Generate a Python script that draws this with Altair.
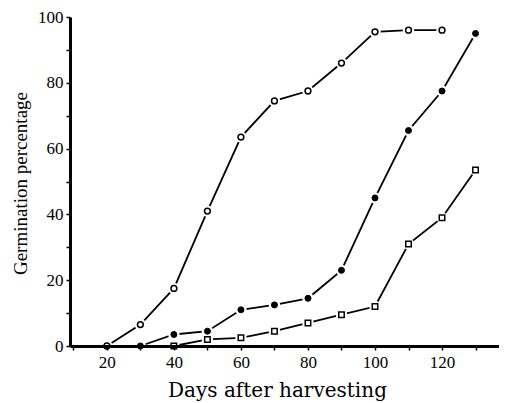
import altair as alt
import pandas as pd

# Data
days_open = [20, 30, 40, 50, 60, 70, 80, 90, 100, 110, 120]
pct_open = [0, 6.5, 17.5, 41, 63.5, 74.5, 77.5, 86, 95.5, 96, 96]

days_filled = [30, 40, 50, 60, 70, 80, 90, 100, 110, 120, 130]
pct_filled = [0, 3.5, 4.5, 11, 12.5, 14.5, 23, 45, 65.5, 77.5, 95]

days_square = [40, 50, 60, 70, 80, 90, 100, 110, 120, 130]
pct_square = [0, 2, 2.5, 4.5, 7, 9.5, 12, 31, 39, 53.5]

x_ticks = [10, 20, 30, 40, 50, 60, 70, 80, 90, 100, 110, 120, 130]
y_ticks = [0, 10, 20, 30, 40, 50, 60, 70, 80, 90, 100]

rows = []
for name, ds, ps in [("open", days_open, pct_open),
                     ("filled", days_filled, pct_filled),
                     ("square", days_square, pct_square)]:
    for d, p in zip(ds, ps):
        rows.append({"series": name, "day": d, "pct": p})
df = pd.DataFrame(rows)

LABEL_FONT = "Liberation Serif"

x_enc = alt.X(
    "day:Q",
    scale=alt.Scale(domain=[9, 137], nice=False, zero=False),
    axis=alt.Axis(
        values=x_ticks,
        labelExpr="datum.value % 20 == 0 ? datum.label : ''",
        grid=False, domainColor="black", domainWidth=3,
        tickColor="black", tickWidth=1.5, tickSize=4,
        labelFont=LABEL_FONT, labelFontSize=17, labelColor="black",
        labelPadding=4, labelFlush=False,
        title="Days after harvesting", titleFont="DejaVu Serif",
        titleFontSize=20, titleFontWeight="normal", titleColor="black",
        titleX=207, titleY=50, titleBaseline="alphabetic",
        zindex=1,
    ),
)
y_enc = alt.Y(
    "pct:Q",
    scale=alt.Scale(domain=[0, 100], nice=False),
    axis=alt.Axis(
        values=y_ticks,
        labelExpr="datum.value % 20 == 0 ? datum.label : ''",
        grid=False, domainColor="black", domainWidth=3,
        tickColor="black", tickWidth=1.5, tickSize=4,
        labelFont=LABEL_FONT, labelFontSize=17, labelColor="black",
        labelPadding=3, labelFlush=False,
        title="Germination percentage", titleFont=LABEL_FONT,
        titleFontSize=19, titleFontWeight="normal", titleColor="black",
        titlePadding=7, titleY=166,
        zindex=1,
    ),
)

base = alt.Chart(df).encode(x=x_enc, y=y_enc)

lines = base.mark_line(color="black", strokeWidth=1.8).encode(detail="series:N")
halo = base.mark_point(shape="circle", filled=True, fill="white",
                       strokeOpacity=0, size=130, opacity=1)
open_pts = base.transform_filter(alt.datum.series == "open").mark_point(
    shape="circle", filled=True, fill="white", stroke="black",
    strokeWidth=1.5, size=34, opacity=1)
filled_pts = base.transform_filter(alt.datum.series == "filled").mark_point(
    shape="circle", filled=True, fill="black", stroke="black",
    strokeWidth=1, size=36, opacity=1)
square_pts = base.transform_filter(alt.datum.series == "square").mark_point(
    shape="square", filled=True, fill="white", stroke="black",
    strokeWidth=1.5, size=30, opacity=1)

chart = alt.layer(lines, halo, open_pts, filled_pts, square_pts).properties(
    width=429, height=329,
    autosize=alt.AutoSizeParams(type="none"),
    padding={"left": 62, "top": 9, "right": 0, "bottom": 57},
    background="white",
).configure_view(stroke=None)

chart.save("out.html", embed_options={"renderer": "svg", "actions": False})
